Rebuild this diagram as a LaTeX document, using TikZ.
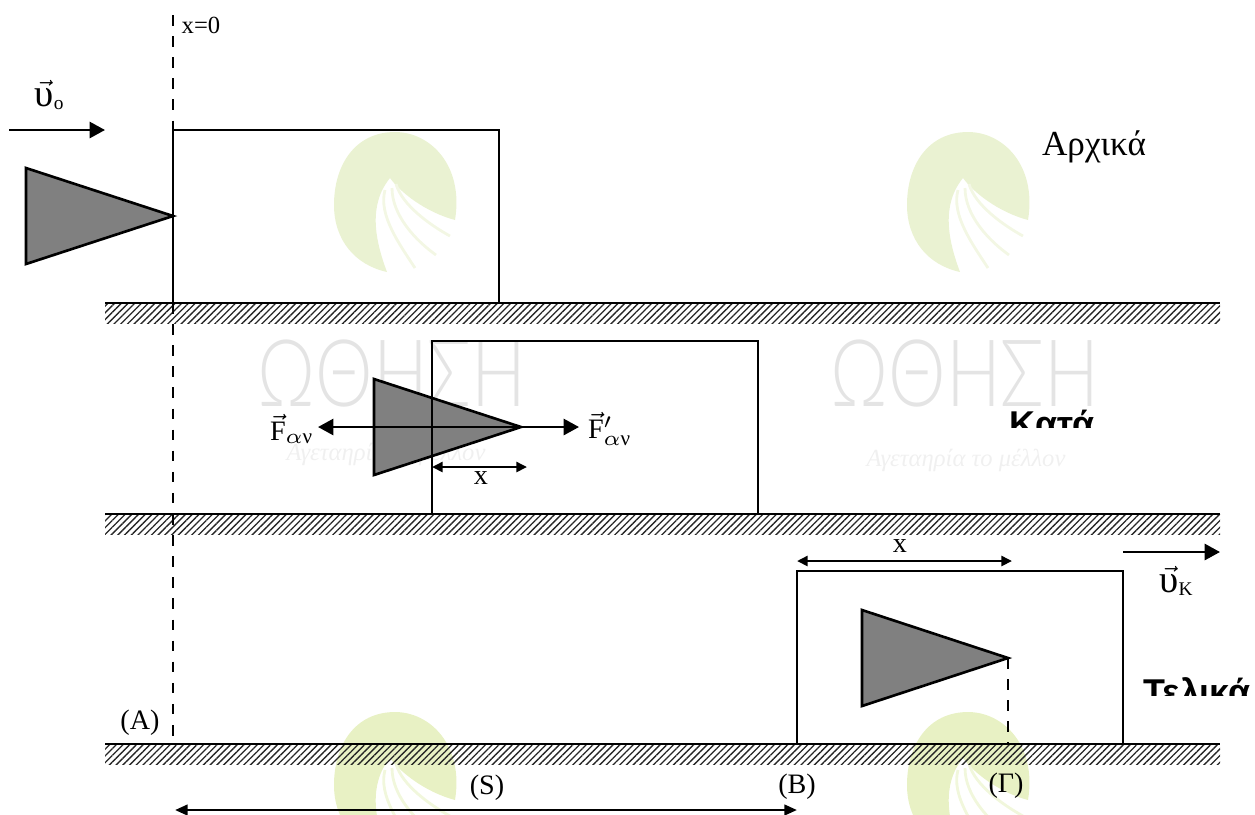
\documentclass[tikz,border=0pt]{standalone}
\usepackage{fontspec}
\setmainfont{Liberation Serif}
\newfontfamily\boldsans{Liberation Sans}[Scale=1]
\newfontfamily\markfont{Lato}[UprightFont=* Light]
\usetikzlibrary{arrows.meta,patterns.meta}
\definecolor{logogreen}{HTML}{EAF2D2}
\definecolor{logolime}{HTML}{E8F1C4}
\definecolor{markgray}{HTML}{E4E4E4}
\newcommand{\upsi}{\mbox{\fontsize{11}{12}\selectfont υ}}
\newcommand{\subnu}{\alpha\mbox{\fontsize{6}{7}\selectfont ν}}
\tikzset{
  line/.style={line width=0.75pt},
  ground/.style={pattern={Lines[angle=45,distance=1.35pt,line width=0.38pt]},pattern color=black!85},
  wedgebody/.style={line, draw=black, fill=black!50},
  bigtip/.style={line, -{Triangle[length=4.4pt,width=4.6pt]}},
  twotip/.style={line, {Triangle[length=3pt,width=2.8pt]}-{Triangle[length=3pt,width=2.8pt]}},
  bigtwotip/.style={line, {Triangle[length=3.6pt,width=3pt]}-{Triangle[length=3.6pt,width=3pt]}},
  txt/.style={inner sep=0pt, font=\fontsize{8}{9}\selectfont},
  smalltxt/.style={inner sep=0pt, font=\fontsize{7}{8}\selectfont},
  boldtxt/.style={inner sep=0pt, font=\fontsize{10.2}{12}\boldsans\bfseries},
  omega/.style={inner sep=0pt, text=markgray, transform shape, xscale=0.78, font=\fontsize{26.5}{30}\markfont},
  motto/.style={inner sep=0pt, text=black!6, font=\fontsize{7}{8}\itshape}
}
\newcommand{\logomark}[3]{%
  \begin{scope}[shift={(#1,#2)}]
    \fill[#3] (455,220) .. controls (464,165) and (430,132) .. (395,132)
      .. controls (355,132) and (334,165) .. (334,205)
      .. controls (334,240) and (355,265) .. (387,272)
      .. controls (375,240) and (368,205) .. (390,178)
      .. controls (400,192) and (425,212) .. (455,220) -- cycle;
    \draw[#3!60, line width=0.8pt] (385,190) .. controls (378,215) and (400,245) .. (415,268);
    \draw[#3!60, line width=0.8pt] (392,188) .. controls (392,215) and (415,240) .. (436,255);
    \draw[#3!60, line width=0.8pt] (396,184) .. controls (402,205) and (430,225) .. (450,236);
  \end{scope}}
\begin{document}
\begin{tikzpicture}[x=0.01cm,y=-0.01cm]
\useasboundingbox (0,0) rectangle (1255,814);
% watermark
\logomark{0}{0}{logogreen}
\logomark{573}{0}{logogreen}
\logomark{0}{580}{logolime}
\logomark{573}{580}{logolime}
\node[omega] (markA) at (392,373) {ΩΘΗΣΗ};
\node[omega] (markB) at (965,373) {ΩΘΗΣΗ};
\node[motto] (mottoA) at (386,454) {Αγεταηρία το μέλλον};
\node[motto] (mottoB) at (966,460) {Αγεταηρία το μέλλον};
% ground
\foreach \y in {303,514,744} {
  \fill[ground] (105,\y) rectangle (1220,\y+20);
  \draw[line, line width=0.8pt] (105,\y) -- (1220,\y);
}
% x=0 line
\coordinate (top0) at (173,15);
\coordinate (box0) at (173,130);
\coordinate (gnd0) at (173,303);
\coordinate (end0) at (173,744);
\draw[line, dashed] (top0) -- (box0);
\draw[line, dashed] (gnd0) -- (end0);
\node[smalltxt, anchor=west] (xzero) at (181,25) {x=0};
% initial
\draw[line] (173,130) rectangle (499,303);
\draw[line, line width=0.85pt] (box0) -- (gnd0);
\draw[wedgebody] (26,168) -- (26,264) -- (173,216) -- cycle;
\coordinate (vstart) at (9,130);
\coordinate (vend) at (105,130);
\draw[bigtip] (vstart) -- (vend);
\node[txt] (vo) at (50,95) {$\vec{\upsi}_{\mbox{\fontsize{5.5}{6}\selectfont o}}$};
\node[txt, font=\fontsize{10}{12}\selectfont] (start) at (1094,147) {Αρχικά};
% during
\draw[line] (432,341) rectangle (758,514);
\draw[wedgebody] (374,379) -- (374,475) -- (521,427) coordinate (tipB) -- cycle;
\draw[line] (432,341) -- (432,514);
\coordinate (fleft) at (318,427);
\coordinate (fright) at (579,427);
\draw[bigtip] (tipB) -- (fleft);
\draw[bigtip] (tipB) -- (fright);
\node[txt] (fa) at (292,429) {$\vec{\mathrm{F}}_{\subnu}$};
\node[txt] (fb) at (610,429) {$\vec{\mathrm{F}}'_{\subnu}$};
\coordinate (xa) at (432,467);
\coordinate (xb) at (527,467);
\draw[twotip] (xa) -- (xb);
\node[txt] (xlow) at (481,478) {x};
\begin{scope}
  \clip (1000,400) rectangle (1110,427);
  \node[boldtxt, anchor=base] (during) at (1052,436) {Κατά};
\end{scope}
% final
\draw[line] (797,571) rectangle (1123,744);
\draw[wedgebody] (862,610) -- (862,706) -- (1008,658) coordinate (tipC) -- cycle;
\coordinate (tipfoot) at (1008,744);
\draw[line, dashed] (tipC) -- (tipfoot);
\coordinate (xc) at (797,561);
\coordinate (xd) at (1012,561);
\draw[twotip] (xc) -- (xd);
\node[txt] (xtop) at (900,546) {x};
\coordinate (kstart) at (1123,552);
\coordinate (kend) at (1220,552);
\draw[bigtip] (kstart) -- (kend);
\node[txt] (vk) at (1177,581) {$\vec{\upsi}_{\mbox{\fontsize{5.5}{6}\selectfont Κ}}$};
\begin{scope}
  \clip (1130,670) rectangle (1255,695);
  \node[boldtxt, anchor=base west] (final) at (1143,704) {Τελικά};
\end{scope}
% labels at the bottom
\node[txt] (pA) at (140,723) {(Α)};
\node[txt] (pS) at (487,788) {(S)};
\node[txt] (pB) at (797,787) {(Β)};
\node[txt] (pG) at (1006,786) {(Γ)};
\coordinate (sa) at (175,810);
\coordinate (sb) at (797,810);
\draw[bigtwotip] (sa) -- (sb);
\end{tikzpicture}
\end{document}
